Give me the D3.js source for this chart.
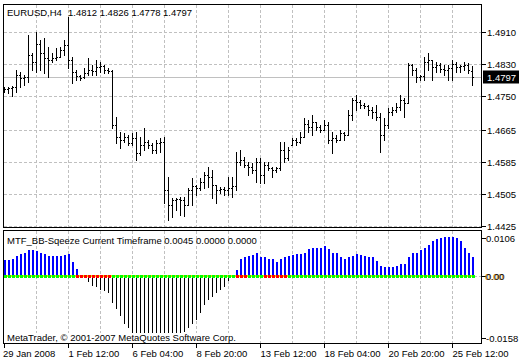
<!DOCTYPE html>
<html>
<head>
<meta charset="utf-8">
<script src="https://cdn.jsdelivr.net/npm/d3@7"></script>
<style>
  html, body { margin: 0; padding: 0; background: #fff; }
  svg { display: block; font-family: "Liberation Sans", Arial, sans-serif; font-size: 9.5px; }
</style>
</head>
<body>
<script>
// EURUSD H4 bars, 29 Jan 2008 20:00 .. 26 Feb 2008
const open = [1.4766,1.4768,1.4771,1.4773,1.4803,1.4796,1.4798,1.4853,1.4836,1.4881,1.4858,1.4846,1.4841,1.4846,1.4848,1.4866,1.4878,1.4841,1.4811,1.4801,
  1.4798,1.4808,1.4816,1.4813,1.4823,1.4826,1.4816,1.4813,1.4678,1.4648,1.4640,1.4648,1.4633,1.4645,1.4608,1.4628,1.4635,1.4628,1.4615,1.4633,
  1.4635,1.4515,1.4478,1.4490,1.4493,1.4490,1.4478,1.4515,1.4525,1.4520,1.4535,1.4553,1.4548,1.4528,1.4515,1.4518,1.4515,1.4520,1.4525,1.4585,
  1.4590,1.4578,1.4573,1.4565,1.4585,1.4553,1.4578,1.4570,1.4565,1.4570,1.4615,1.4595,1.4628,1.4640,1.4635,1.4648,1.4680,1.4673,1.4685,1.4673,
  1.4665,1.4678,1.4640,1.4645,1.4640,1.4658,1.4653,1.4703,1.4741,1.4735,1.4728,1.4725,1.4715,1.4710,1.4698,1.4653,1.4678,1.4710,1.4715,1.4723,
  1.4741,1.4733,1.4828,1.4816,1.4798,1.4801,1.4836,1.4841,1.4823,1.4828,1.4818,1.4816,1.4821,1.4831,1.4823,1.4826,1.4828,1.4812];
const high = [1.4773,1.4773,1.4776,1.4816,1.4811,1.4803,1.4903,1.4858,1.4911,1.4891,1.4896,1.4873,1.4858,1.4871,1.4873,1.4891,1.4948,1.4848,1.4816,1.4803,
  1.4821,1.4846,1.4828,1.4841,1.4836,1.4828,1.4821,1.4816,1.4698,1.4660,1.4658,1.4653,1.4658,1.4660,1.4648,1.4670,1.4640,1.4633,1.4640,1.4645,
  1.4648,1.4548,1.4495,1.4495,1.4498,1.4498,1.4520,1.4545,1.4528,1.4545,1.4560,1.4573,1.4565,1.4528,1.4523,1.4523,1.4548,1.4548,1.4610,1.4615,
  1.4598,1.4585,1.4583,1.4595,1.4595,1.4585,1.4585,1.4573,1.4573,1.4635,1.4635,1.4623,1.4645,1.4645,1.4660,1.4695,1.4690,1.4703,1.4685,1.4678,
  1.4690,1.4685,1.4660,1.4653,1.4665,1.4660,1.4715,1.4746,1.4753,1.4741,1.4733,1.4728,1.4723,1.4728,1.4708,1.4695,1.4720,1.4723,1.4733,1.4753,
  1.4746,1.4833,1.4831,1.4821,1.4803,1.4848,1.4858,1.4841,1.4836,1.4833,1.4828,1.4828,1.4841,1.4836,1.4828,1.4836,1.4833,1.4826];
const low = [1.4761,1.4758,1.4751,1.4761,1.4773,1.4778,1.4786,1.4816,1.4811,1.4816,1.4808,1.4798,1.4836,1.4841,1.4848,1.4853,1.4821,1.4783,1.4791,1.4791,
  1.4796,1.4803,1.4803,1.4803,1.4811,1.4808,1.4808,1.4670,1.4633,1.4620,1.4635,1.4628,1.4628,1.4590,1.4603,1.4615,1.4620,1.4608,1.4608,1.4610,
  1.4483,1.4440,1.4448,1.4465,1.4453,1.4450,1.4478,1.4478,1.4503,1.4515,1.4520,1.4523,1.4495,1.4483,1.4508,1.4503,1.4503,1.4498,1.4515,1.4578,
  1.4573,1.4553,1.4558,1.4535,1.4533,1.4533,1.4565,1.4548,1.4560,1.4565,1.4585,1.4590,1.4628,1.4628,1.4633,1.4648,1.4660,1.4653,1.4665,1.4660,
  1.4665,1.4633,1.4608,1.4635,1.4640,1.4640,1.4653,1.4690,1.4715,1.4720,1.4720,1.4703,1.4695,1.4690,1.4610,1.4640,1.4670,1.4703,1.4710,1.4715,
  1.4698,1.4733,1.4803,1.4786,1.4791,1.4791,1.4816,1.4791,1.4811,1.4811,1.4803,1.4791,1.4791,1.4811,1.4811,1.4816,1.4808,1.4778];
const close = [1.4768,1.4771,1.4773,1.4803,1.4796,1.4798,1.4853,1.4836,1.4881,1.4858,1.4846,1.4841,1.4846,1.4848,1.4866,1.4878,1.4841,1.4811,1.4801,1.4796,
  1.4808,1.4816,1.4813,1.4823,1.4826,1.4816,1.4813,1.4678,1.4648,1.4640,1.4648,1.4633,1.4645,1.4608,1.4628,1.4635,1.4628,1.4615,1.4633,1.4635,
  1.4515,1.4478,1.4490,1.4493,1.4490,1.4478,1.4515,1.4525,1.4520,1.4535,1.4553,1.4548,1.4528,1.4515,1.4518,1.4515,1.4520,1.4525,1.4585,1.4590,
  1.4578,1.4573,1.4565,1.4585,1.4553,1.4578,1.4570,1.4565,1.4570,1.4615,1.4595,1.4615,1.4640,1.4635,1.4648,1.4680,1.4673,1.4685,1.4673,1.4665,
  1.4678,1.4640,1.4645,1.4640,1.4658,1.4653,1.4703,1.4741,1.4735,1.4728,1.4725,1.4715,1.4710,1.4698,1.4653,1.4678,1.4710,1.4715,1.4723,1.4741,
  1.4733,1.4828,1.4816,1.4798,1.4801,1.4836,1.4841,1.4823,1.4828,1.4818,1.4816,1.4821,1.4831,1.4823,1.4826,1.4828,1.4816,1.4797];

// MTF_BB-Sqeeze histogram
const squeeze = [0.0037,0.0037,0.0041,0.0047,0.0051,0.0054,0.0062,0.0062,0.0059,0.0054,0.0051,0.0047,0.0046,0.0047,0.0047,0.0049,0.0051,0.0032,0.0017,-0.0001,
  -0.0004,-0.0014,-0.0024,-0.0026,-0.0034,-0.0036,-0.0040,-0.0063,-0.0079,-0.0095,-0.0113,-0.0123,-0.0135,-0.0142,-0.0148,-0.0152,-0.0155,-0.0157,-0.0158,-0.0157,
  -0.0156,-0.0154,-0.0140,-0.0137,-0.0135,-0.0131,-0.0123,-0.0113,-0.0103,-0.0087,-0.0068,-0.0057,-0.0049,-0.0041,-0.0032,-0.0025,-0.0012,-0.0003,0.0013,0.0039,
  0.0045,0.0047,0.0050,0.0054,0.0045,0.0044,0.0039,0.0041,0.0034,0.0039,0.0044,0.0046,0.0050,0.0051,0.0051,0.0055,0.0063,0.0065,0.0065,0.0067,
  0.0070,0.0063,0.0055,0.0053,0.0044,0.0041,0.0044,0.0046,0.0051,0.0050,0.0047,0.0045,0.0044,0.0035,0.0024,0.0020,0.0021,0.0021,0.0024,0.0028,
  0.0029,0.0044,0.0053,0.0055,0.0061,0.0065,0.0073,0.0082,0.0087,0.0089,0.0091,0.0091,0.0091,0.0089,0.0082,0.0067,0.0055,0.0045];
// bars where the squeeze dot is red
const redDots = [18,19,20,21,22,23,24,25,26,58,59,60,65,66,67,68,69,70];

const priceTicks = [1.4910, 1.4830, 1.4750, 1.4665, 1.4585, 1.4505, 1.4425];
const lastPrice = 1.4797;
const sqMax = 0.0106, sqMin = -0.0158;
const dateTicks = [0, 16, 32, 48, 64, 80, 96, 112];
const dateLabels = ["29 Jan 2008", "1 Feb 12:00", "6 Feb 04:00", "8 Feb 20:00", "13 Feb 12:00", "18 Feb 04:00", "20 Feb 20:00", "25 Feb 12:00"];
const gridBars = d3.range(8, 118, 8);

const W = 523, H = 358;
const left = 3.5, right = 481.5;
const top1 = 4.5, bot1 = 227.5, top2 = 230.5, bot2 = 343.5;

const x = d3.scaleLinear().domain([0, open.length - 1]).range([4.5, 472.5]);
const y = d3.scaleLinear().domain([1.4425, 1.4910]).range([226, 32.3]);
const y2 = d3.scaleLinear().domain([sqMin, sqMax]).range([343, 231]);
const px = v => Math.round(v) + 0.5;

const svg = d3.select("body").append("svg").attr("width", W).attr("height", H);
svg.append("rect").attr("width", W).attr("height", H).attr("fill", "#fff");

const grid = svg.append("g").attr("stroke", "#c0c0c0").attr("stroke-dasharray", "3,2")
  .attr("shape-rendering", "crispEdges");
// vertical grid in both panes
gridBars.forEach(b => {
  grid.append("line").attr("x1", x(b)).attr("x2", x(b)).attr("y1", top1).attr("y2", bot1);
  grid.append("line").attr("x1", x(b)).attr("x2", x(b)).attr("y1", top2).attr("y2", bot2);
});
// horizontal grid
priceTicks.forEach(p => {
  grid.append("line").attr("x1", left).attr("x2", right).attr("y1", px(y(p))).attr("y2", px(y(p)));
});
grid.append("line").attr("x1", left).attr("x2", right).attr("y1", px(y2(0))).attr("y2", px(y2(0)));

// last price line
svg.append("line").attr("x1", left).attr("x2", right)
  .attr("y1", px(y(lastPrice))).attr("y2", px(y(lastPrice)))
  .attr("stroke", "#c0c0c0").attr("shape-rendering", "crispEdges");

// OHLC bars
const bars = svg.append("g").attr("stroke", "#000").attr("shape-rendering", "crispEdges");
open.forEach((o, i) => {
  const cx = x(i);
  bars.append("line").attr("x1", cx).attr("x2", cx).attr("y1", Math.round(y(high[i]))).attr("y2", Math.round(y(low[i])) + 1);
  bars.append("line").attr("x1", cx - 1.5).attr("x2", cx).attr("y1", px(y(o))).attr("y2", px(y(o)));
  bars.append("line").attr("x1", cx).attr("x2", cx + 1.5).attr("y1", px(y(close[i]))).attr("y2", px(y(close[i])));
});

// histogram
const z = y2(0);
const hist = svg.append("g").attr("shape-rendering", "crispEdges");
squeeze.forEach((v, i) => {
  if (v >= 0) {
    hist.append("rect").attr("x", x(i) - 0.5).attr("width", 2)
      .attr("y", y2(v)).attr("height", z - y2(v)).attr("fill", "#0000ff");
  } else {
    hist.append("line").attr("x1", x(i)).attr("x2", x(i))
      .attr("y1", z).attr("y2", y2(v)).attr("stroke", "#000");
  }
});
// zero dots
hist.append("line").attr("x1", x(0) - 1).attr("x2", x(squeeze.length - 1) + 2)
  .attr("y1", Math.round(z)).attr("y2", Math.round(z)).attr("stroke", "#e8e000").attr("stroke-width", 2);
squeeze.forEach((v, i) => {
  hist.append("rect").attr("x", x(i) - 1).attr("y", Math.round(z) - 1.5).attr("width", 3).attr("height", 3)
    .attr("fill", redDots.includes(i) ? "#ff0000" : "#00ff00");
});

// pane frames
const frame = svg.append("g").attr("fill", "none").attr("stroke", "#000").attr("shape-rendering", "crispEdges");
frame.append("rect").attr("x", left).attr("y", top1).attr("width", right - left).attr("height", bot1 - top1);
frame.append("rect").attr("x", left).attr("y", top2).attr("width", right - left).attr("height", bot2 - top2);

// price axis
const ax = svg.append("g");
priceTicks.forEach(p => {
  const yy = px(y(p));
  ax.append("line").attr("x1", right).attr("x2", right + 4).attr("y1", yy).attr("y2", yy)
    .attr("stroke", "#000").attr("shape-rendering", "crispEdges");
  ax.append("text").attr("x", 487).attr("y", yy + 3.5).text(p.toFixed(4));
});
const ly = px(y(lastPrice));
ax.append("rect").attr("x", 483).attr("y", ly - 7).attr("width", 36).attr("height", 13).attr("fill", "#000");
ax.append("text").attr("x", 487).attr("y", ly + 3.5).attr("fill", "#fff").text(lastPrice.toFixed(4));

// indicator axis
[[sqMax, 6.5, sqMax.toFixed(4)], [0, 0, "0.00"], [sqMin, -5.5, sqMin.toFixed(4)]].forEach(([v, off, lab]) => {
  const yy = px(y2(v)) + off;
  ax.append("line").attr("x1", right).attr("x2", right + 4).attr("y1", yy).attr("y2", yy)
    .attr("stroke", "#000").attr("shape-rendering", "crispEdges");
  if (v === 0) ax.append("text").attr("x", 485).attr("y", yy + 3.5).attr("fill", "#c08000").text(lab);
  ax.append("text").attr("x", 486).attr("y", yy + 3.5).text(lab);
});

// time axis
dateTicks.forEach((b, k) => {
  ax.append("line").attr("x1", x(b)).attr("x2", x(b)).attr("y1", bot2).attr("y2", bot2 + 4)
    .attr("stroke", "#000").attr("shape-rendering", "crispEdges");
  ax.append("text").attr("x", k === 0 ? 3 : x(b)).attr("y", 356.5).text(dateLabels[k]);
});

// captions
svg.append("text").attr("x", 7).attr("y", 16).text("EURUSD,H4");
svg.append("text").attr("x", 68).attr("y", 16)
  .text([open[open.length - 1], high[high.length - 1], low[low.length - 1], close[close.length - 1]].map(d => d.toFixed(4)).join(" "));
svg.append("text").attr("x", 7).attr("y", 244)
  .text("MTF_BB-Sqeeze Current Timeframe " + squeeze[squeeze.length - 1].toFixed(4) + " 0.0000 0.0000");
svg.append("rect").attr("x", 4).attr("y", 333).attr("width", 254).attr("height", 10).attr("fill", "#fff");
svg.append("text").attr("x", 7).attr("y", 340.5).text("MetaTrader, \u00a9 2001-2007 MetaQuotes Software Corp.");
</script>
</body>
</html>
